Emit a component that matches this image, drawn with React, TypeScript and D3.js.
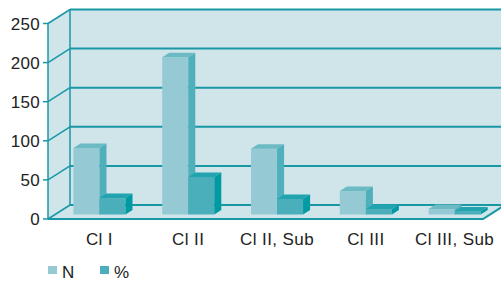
import * as d3 from 'd3';
import React from 'react';

const categories = ['Cl I', 'Cl II', 'Cl II, Sub', 'Cl III', 'Cl III, Sub'];
const nValues = [85, 201, 84, 30, 7];
const pctValues = [21, 48, 20, 7, 4];
const yTicks = [0, 50, 100, 150, 200, 250];
const seriesNames = ['N', '%'];

const W = 501;
const H = 284;

// depth of the 3D box
const DX = 22;
const DY = 14;
const barD1 = 0.32;
const barD2 = 0.64;

const colors = {
  wall: '#cfe5ea',
  line: '#1897a5',
  text: '#222',
  N: { front: '#95cad4', top: '#6cbac4', side: '#4fb0bc' },
  P: { front: '#4aaebb', top: '#22a4b0', side: '#009aa3' },
};

const font = '"Liberation Sans", Arial, Helvetica, sans-serif';

function proj(px: number, py: number, d: number): [number, number] {
  return [px + d * DX, py - d * DY];
}

function pts(list: [number, number][]) {
  return list.map(p => p.join(',')).join(' ');
}

export default function App() {
  const y = d3.scaleLinear().domain([0, 250]).range([219, 23.5]);
  const x = d3.scaleBand<string>()
    .domain(categories)
    .range([48, 492])
    .paddingInner(0.414)
    .paddingOuter(0.207);
  const sub = d3.scaleBand<string>().domain(seriesNames).range([0, x.bandwidth()]);

  const left = 48;
  const right = 483;
  const y0 = y(0);
  const yTop = y(250);

  const bars: JSX.Element[] = [];
  categories.forEach((c, i) => {
    [nValues[i], pctValues[i]].forEach((v, j) => {
      const col = j === 0 ? colors.N : colors.P;
      const x0 = (x(c) as number) + (sub(seriesNames[j]) as number);
      const x1 = x0 + sub.bandwidth();
      const yt = y(v);
      bars.push(
        <g key={c + j}>
          <polygon fill={col.front} points={pts([proj(x0, yt, barD1), proj(x1, yt, barD1), proj(x1, y0, barD1), proj(x0, y0, barD1)])} />
          <polygon fill={col.top} points={pts([proj(x0, yt, barD1), proj(x1, yt, barD1), proj(x1, yt, barD2), proj(x0, yt, barD2)])} />
          <polygon fill={col.side} points={pts([proj(x1, yt, barD1), proj(x1, yt, barD2), proj(x1, y0, barD2), proj(x1, y0, barD1)])} />
        </g>
      );
    });
  });

  return (
    <svg width={W} height={H} style={{ position: 'absolute', left: 0, top: 0, background: '#fff' }}>
      {/* back wall */}
      <polygon fill={colors.wall} points={pts([proj(left, yTop, 1), [W + 10, yTop - DY], [W + 10, y0 - DY], proj(left, y0, 1)])} />
      {/* left wall */}
      <polygon fill={colors.wall} points={pts([[left, yTop], proj(left, yTop, 1), proj(left, y0, 1), [left, y0]])} />
      {/* floor */}
      <polygon fill={colors.wall} points={pts([[left, y0], proj(left, y0, 1), proj(right, y0, 1), [right, y0]])} />

      {yTicks.map(t => (
        <g key={t}>
          <line x1={left + DX} x2={W} y1={y(t) - DY} y2={y(t) - DY} stroke={colors.line} strokeWidth={2} />
          <line x1={left} y1={y(t)} x2={left + DX} y2={y(t) - DY} stroke={colors.line} strokeWidth={1.5} />
          <line x1={left - 5} x2={left} y1={y(t)} y2={y(t)} stroke={colors.line} strokeWidth={1.5} />
          <text x={40} y={y(t)} dy="0.36em" textAnchor="end" fontSize={17} letterSpacing={0.3}
            fontFamily={font} fill={colors.text}>{t}</text>
        </g>
      ))}
      <line x1={left} x2={left} y1={yTop} y2={y0} stroke={colors.line} strokeWidth={1.5} />
      <line x1={left + DX} x2={left + DX} y1={yTop - DY} y2={y0 - DY} stroke={colors.line} strokeWidth={1.5} />

      {bars}

      {/* front floor edge */}
      <polyline fill="none" stroke={colors.line} strokeWidth={2}
        points={pts([[left, y0], [right, y0], proj(right, y0, 1)])} />

      {categories.map(c => (
        <text key={c} x={(x(c) as number) + x.bandwidth() / 2 + barD1 * DX} y={245}
          textAnchor="middle" fontSize={17} letterSpacing={0.4} fontFamily={font} fill={colors.text}>{c}</text>
      ))}

      {seriesNames.map((s, j) => (
        <g key={s} transform={`translate(${48 + j * 52},266)`}>
          <rect width={9} height={8} fill={j === 0 ? colors.N.front : colors.P.front} />
          <text x={14} y={12} fontSize={17} fontFamily={font} fill={colors.text}>{s}</text>
        </g>
      ))}
    </svg>
  );
}
